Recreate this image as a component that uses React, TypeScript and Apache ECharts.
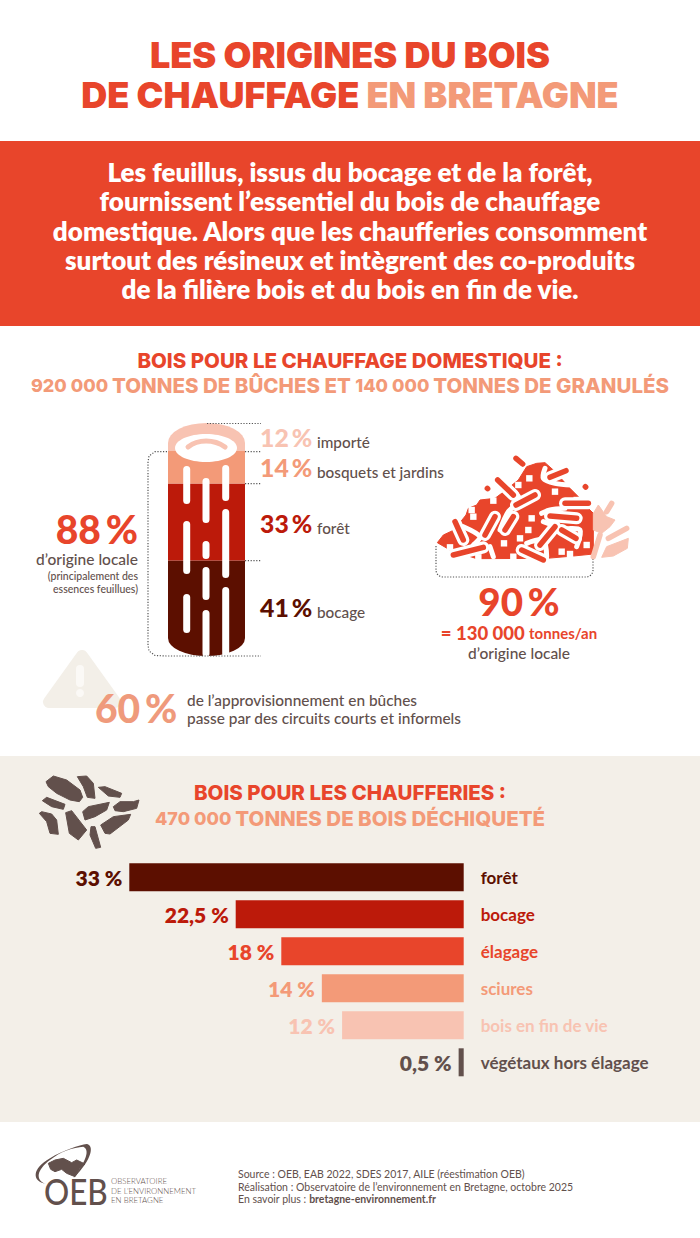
import React, { useEffect, useRef } from 'react'
import * as echarts from 'echarts'

// Bûches (du bas vers le haut du tronc)
const logLabels = ['bocage', 'forêt', 'bosquets et jardins', 'importé']
const logValues = [41, 33, 14, 12]
const logColors = ['#5c0f00', '#bc1a0a', '#f39a78', '#f8c3b2']

// Chaufferies
const boilerLabels = ['forêt', 'bocage', 'élagage', 'sciures', 'bois en fin de vie', 'végétaux hors élagage']
const boilerValues = [33, 22.5, 18, 14, 12, 0.5]
const boilerColors = ['#5c0f00', '#bc1a0a', '#e8452b', '#f39a78', '#f8c3b2', '#62504c']

const RED = '#e8452b'
const SALMON = '#f39a78'
const PALE = '#f8c3b2'
const BROWN = '#62504c'
const CREAM = '#f3efe8'
const HEAD = 'Inter'
const BODY = 'Lato'
const THIN = '\u2009'

echarts.graphic.registerShape('oebSwoosh', echarts.graphic.extendPath(
  'M48 132 C5 125 5 85 60 55 C100 30 150 15 170 12 C192 15 190 55 130 115 C170 60 180 30 160 20 C130 22 90 35 60 60 C20 90 15 120 48 132 Z',
  {},
) as any)

const txt = (x: number, y: number, text: string, size: number, fill: string, weight: any = 400, align = 'left', family = BODY): any => ({
  type: 'text', x, y, z: 10,
  style: { text, fontSize: size, fill, fontWeight: weight, fontFamily: family, align, verticalAlign: 'middle' },
})

const richTxt = (x: number, y: number, text: string, rich: any, align = 'left'): any => ({
  type: 'text', x, y, z: 10,
  style: { text, rich, align, verticalAlign: 'middle' },
})

const dotted = (points: number[][]): any => ({
  type: 'polyline', z: 10,
  shape: { points },
  style: { fill: 'none', stroke: '#555', lineWidth: 1.2, lineDash: [1.2, 1.6] },
})

const poly = (pts: number[][], fill: string, sx: (v: number) => number, sy: (v: number) => number): any => ({
  type: 'polygon', z: 10,
  shape: { points: pts.map(p => [sx(p[0]), sy(p[1])]) },
  style: { fill, stroke: fill, lineWidth: 1, lineJoin: 'round' },
})

const px = (v: number) => v / 3 + 430
const py = (v: number) => v / 3 + 450

const rod = (x1: number, y1: number, x2: number, y2: number, color = RED, halo = true): any[] => {
  const make = (w: number, c: string) => ({
    type: 'line', z: 11,
    shape: { x1: px(x1), y1: py(y1), x2: px(x2), y2: py(y2) },
    style: { stroke: c, lineWidth: w, lineCap: 'round' },
  })
  return halo ? [make(12, '#fff'), { ...make(5.5, color), z: 12 }] : [{ ...make(5.5, color), z: 12 }]
}

const whiteRun = (pts: number[][]) => ({
  type: 'polyline', z: 11,
  shape: { points: pts.map(p => [px(p[0]), py(p[1])]), smooth: 0.3 },
  style: { fill: 'none', stroke: '#fff', lineWidth: 5, lineCap: 'round', lineJoin: 'round' },
})

const square = (x: number, y: number) => ({
  type: 'rect', z: 11,
  shape: { x: px(x) - 3.2, y: py(y) - 3.2, width: 6.4, height: 6.4 },
  style: { fill: '#fff' },
})

const barkStrip = (x: number, y1: number, y2: number) => ({
  type: 'rect', z: 10,
  shape: { x: x - 3.5, y: y1, width: 7, height: y2 - y1, r: 3.5 },
  style: { fill: '#fff' },
})

// Bûche : segments empilés, extrémités elliptiques
const renderLogSegment = (params: any, api: any) => {
  const i = params.dataIndex
  const start = api.value(1)
  const end = api.value(2)
  const c = api.coord([api.value(0), start])
  const w = api.size([1, 0])[0]
  const l = c[0] - w / 2
  const r = c[0] + w / 2
  const bottom = c[1]
  const top = api.coord([api.value(0), end])[1]
  let d = `M${l} ${bottom} L${r} ${bottom} L${r} ${top} L${l} ${top} Z`
  if (i === 0) {
    d = `M${l} ${top} L${r} ${top} L${r} ${bottom - 18} A${w / 2} 18 0 0 1 ${l} ${bottom - 18} Z`
  } else if (i === logValues.length - 1) {
    d = `M${l} ${bottom} L${r} ${bottom} L${r} ${top + 20} A${w / 2} 20 0 0 0 ${l} ${top + 20} Z`
  }
  return { type: 'path', shape: { pathData: d }, style: { fill: logColors[i] } }
}

const App: React.FC = () => {
  const ref = useRef<HTMLDivElement>(null)

  useEffect(() => {
    if (!ref.current) return
    const chart = echarts.init(ref.current, null, { renderer: 'svg' })

    let acc = 0
    const logData = logValues.map(v => {
      const row = [0, acc, acc + v]
      acc += v
      return row
    })

    const bigHead = { fontFamily: HEAD, fontWeight: 900, fontSize: 36 }
    const subHead = { fontFamily: HEAD, fontWeight: 800, fontSize: 20.5 }

    const percent = (y: number, value: string, label: string, color: string) => [
      txt(260, y, `${value}${THIN}%`, 24.8, color, 900),
      txt(317, y + 4.5, label, 15.3, BROWN, 500),
    ]

    const elements: any[] = [
      // fonds
      { type: 'rect', z: 0, shape: { x: 0, y: 141, width: 700, height: 185 }, style: { fill: RED } },
      { type: 'rect', z: 0, shape: { x: 0, y: 756, width: 700, height: 366 }, style: { fill: CREAM } },

      // titre
      richTxt(350, 55, '{a|LES ORIGINES DU BOIS}', { a: { ...bigHead, fill: RED } }, 'center'),
      richTxt(350, 95, '{a|DE CHAUFFAGE }{b|EN BRETAGNE}', { a: { ...bigHead, fill: RED }, b: { ...bigHead, fill: SALMON } }, 'center'),

      // bandeau
      ...[
        'Les feuillus, issus du bocage et de la forêt,',
        'fournissent l’essentiel du bois de chauffage',
        'domestique. Alors que les chaufferies consomment',
        'surtout des résineux et intègrent des co-produits',
        'de la filière bois et du bois en fin de vie.',
      ].map((line, i) => txt(350, 172 + i * 29.3, line, 26, '#fff', 800, 'center')),

      // section bûches
      richTxt(350, 360, '{a|BOIS POUR LE CHAUFFAGE DOMESTIQUE :}', { a: { ...subHead, fill: RED } }, 'center'),
      richTxt(350, 385, '{n|920 000 }{a|TONNES DE BÛCHES ET }{n|140 000 }{a|TONNES DE GRANULÉS}', {
        a: { ...subHead, fill: SALMON },
        n: { ...subHead, fontSize: 18, fill: SALMON },
      }, 'center'),

      // dessus de la bûche
      { type: 'ellipse', z: 10, shape: { cx: 206, cy: 448, rx: 31, ry: 14 }, style: { fill: '#fff' } },
      {
        type: 'bezierCurve', z: 11,
        shape: { x1: 188, y1: 447, cpx1: 198, cpy1: 439, cpx2: 214, cpy2: 439, x2: 225, y2: 447 },
        style: { fill: 'none', stroke: PALE, lineWidth: 5, lineCap: 'round' },
      },
      barkStrip(186.7, 466, 504), barkStrip(186.7, 521, 574), barkStrip(186.7, 594, 633),
      barkStrip(206, 478, 523), barkStrip(206, 541, 559), barkStrip(206, 567, 600), barkStrip(206, 610, 657),
      barkStrip(225.7, 465, 501), barkStrip(225.7, 509, 578), barkStrip(225.7, 587, 657),

      // pointillés
      dotted([[207, 423.5], [261, 423.5]]),
      dotted([[245, 451.7], [261, 451.7]]),
      dotted([[245, 483.6], [261, 483.6]]),
      dotted([[245, 560.7], [261, 560.7]]),
      dotted([[167, 451.7], [155, 451.7], [149, 456], [148, 462], [148, 645], [149, 651], [155, 655.5], [166, 656], [261, 656]]),

      ...percent(437, '12', logLabels[3], PALE),
      ...percent(467, '14', logLabels[2], SALMON),
      ...percent(523, '33', logLabels[1], logColors[1]),
      ...percent(607, '41', logLabels[0], logColors[0]),

      txt(138, 529, `88${THIN}%`, 39, RED, 900, 'right'),
      txt(138, 559, 'd’origine locale', 15.5, BROWN, 500, 'right'),
      txt(138, 576, '(principalement des', 10.5, BROWN, 500, 'right'),
      txt(138, 589, 'essences feuillues)', 10.5, BROWN, 500, 'right'),

      // granulés
      poly([[22, 278], [40, 255], [72, 240], [108, 195], [115, 175], [140, 165], [150, 150], [195, 145], [215, 130], [240, 110], [265, 90], [290, 50], [320, 40], [345, 38], [372, 62], [420, 115], [445, 140], [470, 170], [490, 190], [490, 312], [430, 318], [350, 325], [140, 326], [60, 300]], RED, px, py),
      poly([[490, 190], [505, 165], [530, 200], [555, 210], [540, 230], [515, 250], [490, 240]], PALE, px, py),
      poly([[530, 290], [595, 265], [592, 295], [550, 318], [515, 322]], PALE, px, py),
      whiteRun([[345, 55], [340, 85], [375, 100], [425, 105]]),
      whiteRun([[225, 100], [270, 150], [235, 185], [210, 240]]),
      whiteRun([[335, 190], [360, 180], [405, 175]]),
      whiteRun([[340, 215], [400, 235], [450, 240], [440, 290]]),
      whiteRun([[180, 290], [190, 320]]),
      whiteRun([[100, 230], [150, 260], [130, 285]]),
      whiteRun([[290, 280], [340, 270], [350, 320]]),
      ...rod(258, 25, 278, 42, RED, false),
      ...rod(360, 82, 408, 62),
      ...rod(203, 90, 250, 135),
      ...rod(258, 165, 315, 135),
      ...rod(405, 160, 475, 160),
      ...rod(165, 255, 195, 200),
      ...rod(225, 240, 250, 200),
      ...rod(75, 215, 100, 270),
      ...rod(70, 315, 160, 292),
      ...rod(275, 300, 340, 330),
      ...rod(360, 198, 440, 205),
      ...rod(330, 285, 375, 230),
      ...rod(395, 240, 438, 265),
      ...rod(172, 115, 173, 116, RED, false),
      ...rod(466, 110, 467, 111, RED, false),
      ...rod(545, 160, 530, 185, PALE, false),
      ...rod(535, 265, 590, 235, PALE, false),
      ...rod(510, 255, 490, 320, PALE, false),
      square(130, 200), square(298, 85), square(375, 125), square(305, 205), square(295, 240), square(270, 265), square(222, 280),
      square(60, 292), square(125, 180), square(190, 152), square(265, 105), square(235, 122), square(440, 150), square(395, 305), square(420, 312), square(470, 285), square(250, 320), square(145, 322),
      {
        type: 'rect', z: 9,
        shape: { x: 436, y: 545, width: 157, height: 32, r: [0, 0, 7, 7] },
        style: { fill: 'none', stroke: '#555', lineWidth: 1.2, lineDash: [1.2, 1.6] },
      },
      { type: 'rect', z: 9, shape: { x: 435, y: 540, width: 160, height: 6 }, style: { fill: '#fff' } },

      txt(519, 601, `90${THIN}%`, 38.5, RED, 900, 'center'),
      richTxt(519, 633, '{a|= 130 000 }{b|tonnes/an}', {
        a: { fontFamily: BODY, fontWeight: 900, fontSize: 18.5, fill: RED },
        b: { fontFamily: BODY, fontWeight: 700, fontSize: 15, fill: RED },
      }, 'center'),
      txt(519, 653, 'd’origine locale', 15.5, BROWN, 500, 'center'),

      // circuits courts
      {
        type: 'polygon', z: 5,
        shape: { points: [[82, 656], [49, 702], [115, 702]] },
        style: { fill: CREAM, stroke: CREAM, lineWidth: 12, lineJoin: 'round' },
      },
      { type: 'rect', z: 6, shape: { x: 76, y: 665, width: 8, height: 22, r: 4 }, style: { fill: '#fbf9f6' } },
      { type: 'circle', z: 6, shape: { cx: 80, cy: 693, r: 4 }, style: { fill: '#fbf9f6' } },
      txt(95, 708, `60${THIN}%`, 39, '#ef9a7c', 900),
      txt(187, 700, 'de l’approvisionnement en bûches', 15.4, BROWN, 500),
      txt(187, 718, 'passe par des circuits courts et informels', 15.4, BROWN, 500),

      // section chaufferies
      richTxt(350, 792, '{a|BOIS POUR LES CHAUFFERIES :}', { a: { ...subHead, fill: RED } }, 'center'),
      richTxt(350, 818, '{n|470 000 }{a|TONNES DE BOIS DÉCHIQUETÉ}', {
        a: { ...subHead, fill: SALMON },
        n: { ...subHead, fontSize: 18, fill: SALMON },
      }, 'center'),

      // copeaux
      ...[
        [[48, 35], [70, 18], [110, 30], [150, 60], [158, 82], [148, 95], [120, 90], [80, 70], [55, 50]],
        [[142, 20], [170, 18], [190, 40], [195, 85], [172, 82], [160, 50]],
        [[205, 52], [225, 50], [275, 70], [270, 82], [235, 78]],
        [[37, 92], [50, 82], [105, 103], [100, 118], [65, 110]],
        [[158, 125], [175, 110], [238, 97], [230, 120], [195, 140], [165, 150]],
        [[250, 110], [270, 95], [310, 95], [327, 90], [320, 115], [280, 125], [255, 122]],
        [[28, 130], [35, 125], [65, 132], [80, 150], [85, 193], [60, 190], [50, 155]],
        [[107, 128], [125, 122], [170, 180], [145, 210], [118, 190]],
        [[212, 165], [250, 140], [302, 133], [295, 150], [240, 192], [225, 190]],
        [[183, 170], [195, 170], [212, 232], [197, 235], [180, 195]],
      ].map(p => poly(p, BROWN, v => v / 3 + 30, v => v / 3 + 770)),

      // pied de page
      { type: 'oebSwoosh', z: 10, x: 30, y: 1140, scaleX: 1 / 3, scaleY: 1 / 3, style: { fill: BROWN } },
      poly([[55, 70], [75, 60], [100, 55], [125, 68], [140, 60], [165, 72], [150, 85], [135, 110], [110, 100], [95, 88], [75, 95], [62, 88]], BROWN, v => v / 3 + 30, v => v / 3 + 1140),
      { ...txt(44, 1190, 'OEB', 37, BROWN, 500), scaleX: 0.85 },
      txt(111, 1181, 'OBSERVATOIRE', 7.9, BROWN, 300),
      txt(111, 1190.5, 'DE L’ENVIRONNEMENT', 7.9, BROWN, 300),
      txt(111, 1200, 'EN BRETAGNE', 7.9, BROWN, 300),
      txt(238, 1174, 'Source : OEB, EAB 2022, SDES 2017, AILE (réestimation OEB)', 10.5, BROWN, 400),
      txt(238, 1186.7, 'Réalisation : Observatoire de l’environnement en Bretagne, octobre 2025', 10.5, BROWN, 400),
      richTxt(238, 1199, '{a|En savoir plus : }{b|bretagne-environnement.fr}', {
        a: { fontFamily: BODY, fontSize: 10.5, fill: BROWN },
        b: { fontFamily: BODY, fontSize: 10.5, fontWeight: 700, fill: BROWN },
      }),
    ]

    chart.setOption({
      animation: false,
      backgroundColor: '#fff',
      grid: [
        { left: 129.3, top: 858.8, width: 334.4, height: 222 },
        { left: 168, top: 423, width: 77, height: 233 },
      ],
      xAxis: [
        { type: 'value', gridIndex: 0, inverse: true, min: 0, max: 33, show: false },
        { type: 'category', gridIndex: 1, data: [''], show: false },
      ],
      yAxis: [
        {
          type: 'category',
          gridIndex: 0,
          inverse: true,
          position: 'right',
          data: boilerLabels.map((l, i) => ({ value: l, textStyle: { color: boilerColors[i] } })),
          axisLine: { show: false },
          axisTick: { show: false },
          axisLabel: { margin: 17, fontFamily: BODY, fontWeight: 700, fontSize: 17, align: 'left' },
        },
        { type: 'value', gridIndex: 1, min: 0, max: 100, show: false },
      ],
      series: [
        {
          type: 'bar',
          xAxisIndex: 0,
          yAxisIndex: 0,
          barWidth: 28,
          data: boilerValues.map((v, i) => ({
            value: v,
            itemStyle: { color: boilerColors[i] },
            label: { color: boilerColors[i] },
          })),
          label: {
            show: true,
            position: 'left',
            distance: 7,
            fontFamily: BODY,
            fontWeight: 800,
            fontSize: 21,
            formatter: (p: any) => `${String(p.value).replace('.', ',')} %`,
          },
        },
        {
          type: 'custom',
          xAxisIndex: 1,
          yAxisIndex: 1,
          clip: false,
          renderItem: renderLogSegment,
          encode: { x: 0, y: [1, 2] },
          data: logData,
        },
      ],
      graphic: { elements },
    })

    return () => chart.dispose()
  }, [])

  return <div ref={ref} style={{ position: 'absolute', left: 0, top: 0, width: 700, height: 1238 }} />
}

export default App
